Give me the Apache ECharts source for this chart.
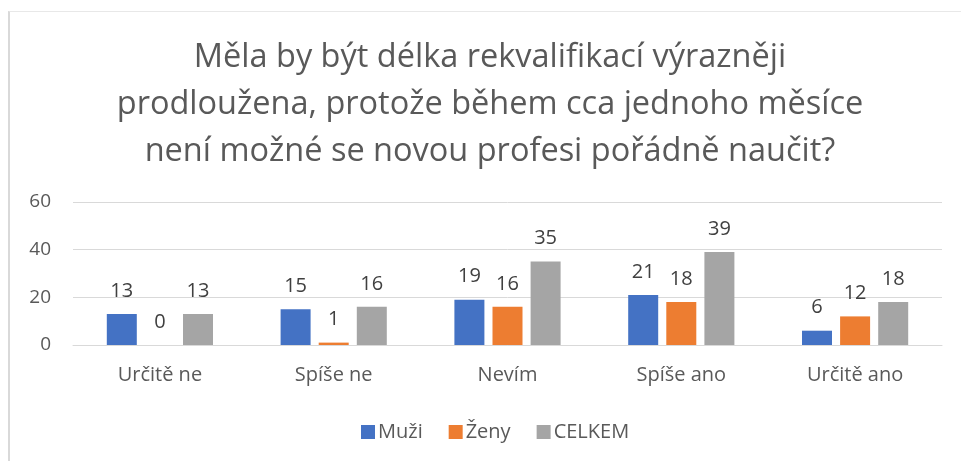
<!DOCTYPE html>
<html>
<head>
<meta charset="utf-8">
<script src="https://cdn.jsdelivr.net/npm/echarts@6/dist/echarts.min.js"></script>
<style>
  html, body { margin: 0; padding: 0; overflow: hidden; background: #fff; }
  #frame {
    position: absolute; left: 8px; top: 11px; width: 1000px; height: 500px;
    border-left: 2px solid #d9d9d9; border-top: 1px solid #e8e8e8;
  }
  #chart { position: absolute; left: 0; top: 0; width: 980px; height: 461px; }
</style>
</head>
<body>
<div id="frame"></div>
<div id="chart"></div>
<script>
const categories = ['Určitě ne', 'Spíše ne', 'Nevím', 'Spíše ano', 'Určitě ano']
const muzi = [13, 15, 19, 21, 6]
const zeny = [0, 1, 16, 18, 12]
const celkem = [13, 16, 35, 39, 18]
const seriesNames = ['Muži', 'Ženy', 'CELKEM']
const colors = ['#4472C4', '#ED7D31', '#A5A5A5']

const font = 'Open Sans'
const chart = echarts.init(document.getElementById('chart'))

const label = {
  show: true,
  position: 'top',
  distance: 13,
  color: '#404040',
  fontSize: 20,
  fontFamily: font
}

function bar (name, data) {
  return {
    name: name,
    type: 'bar',
    data: data,
    barWidth: 30,
    barGap: '27%',
    label: label
  }
}

chart.setOption({
  animation: false,
  color: colors,
  textStyle: { fontFamily: font },
  title: {
    text: 'Měla by být délka rekvalifikací výrazněji\nprodloužena, protože během cca jednoho měsíce\nnení možné se novou profesi pořádně naučit?',
    left: 'center',
    top: 29,
    textStyle: {
      color: '#595959',
      fontSize: 32.5,
      fontWeight: 'normal',
      fontFamily: font,
      lineHeight: 47
    }
  },
  legend: {
    data: seriesNames,
    left: 356,
    top: 417,
    itemWidth: 14,
    itemHeight: 14,
    itemGap: 26,
    icon: 'rect',
    textStyle: { color: '#595959', fontSize: 20, fontFamily: font, padding: [0, 0, 0, -2] }
  },
  grid: { left: 73, right: 38, top: 202, bottom: 116 },
  xAxis: {
    type: 'category',
    data: categories,
    axisLine: { lineStyle: { color: '#d9d9d9', width: 1 } },
    axisTick: { show: false },
    axisLabel: { color: '#595959', fontSize: 20, fontFamily: font, margin: 20 }
  },
  yAxis: {
    type: 'value',
    min: 0,
    max: 60,
    interval: 20,
    axisLine: { show: false },
    axisTick: { show: false },
    splitLine: { lineStyle: { color: '#d9d9d9', width: 1 } },
    axisLabel: { color: '#595959', fontSize: 19, fontFamily: font, margin: 22 }
  },
  series: [
    bar(seriesNames[0], muzi),
    bar(seriesNames[1], zeny),
    bar(seriesNames[2], celkem)
  ]
})
</script>
</body>
</html>
